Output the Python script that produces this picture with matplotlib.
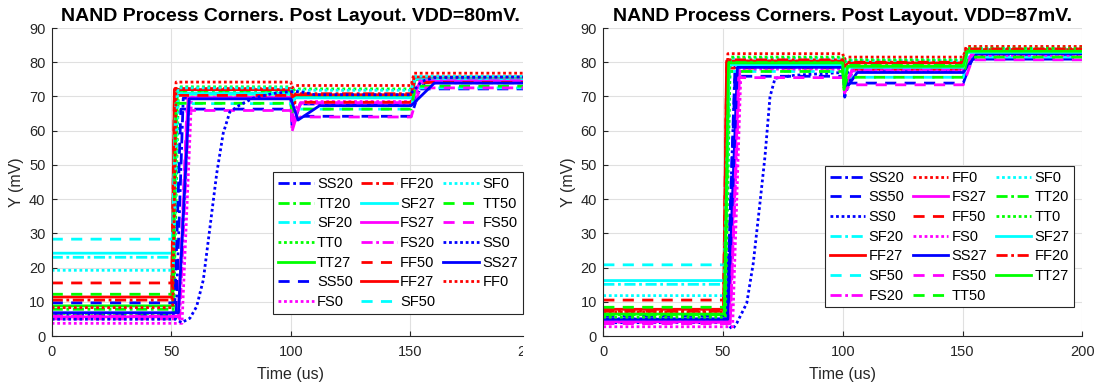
import numpy as np
import matplotlib
matplotlib.use("Agg")
import matplotlib.pyplot as plt
from matplotlib.transforms import Bbox, TransformedBbox

plt.rcParams['font.family'] = ['Liberation Sans', 'DejaVu Sans']

# ---------------- data: VDD = 80 mV ----------------
L_NAMES = ['SS20', 'TT20', 'SF20', 'TT0', 'TT27', 'SS50', 'FS0', 'FF20', 'SF27', 'FS27',
           'FS20', 'FF50', 'FF27', 'SF50', 'SF0', 'TT50', 'FS50', 'SS0', 'SS27', 'FF0']
L_LOW = [6.3, 7.8, 23.0, 6.6, 8.8, 9.7, 3.7, 10.5, 24.2, 5.6,
         5.0, 15.5, 11.4, 28.3, 19.2, 12.2, 5.8, np.nan, 6.8, 8.3]
L_LVL1 = [69.5, 71.3, 71.0, 72.8, 70.7, 66.3, 69.8, 72.3, 70.8, 69.6,
          69.7, 70.3, 72.0, 67.9, 72.5, 68.0, 65.9, np.nan, 69.3, 74.2]
L_LVL2 = [67.8, 70.0, 69.8, 72.2, 69.7, 64.2, 68.5, 70.8, 69.6, 68.2,
          68.0, 68.3, 70.5, 66.3, 71.8, 66.3, 64.0, np.nan, 67.3, 73.2]
L_LVL3 = [74.0, 75.0, 75.2, 75.4, 75.0, 72.2, 74.8, 75.4, 75.2, 74.4,
          74.6, 74.1, 75.7, 72.5, 75.9, 73.0, 72.5, np.nan, 73.9, 76.8]
L_RISE0 = [52.0, 50.8, 50.5, 51.0, 50.6, 51.5, 54.5, 50.3, 50.4, 53.0,
           53.5, 50.2, 50.2, 50.4, 50.8, 50.5, 53.0, np.nan, 53.0, 50.6]
L_RISE1 = [55.0, 52.5, 52.0, 53.0, 52.3, 54.0, 58.5, 51.5, 51.8, 57.0,
           57.5, 51.3, 51.3, 51.8, 52.8, 52.0, 56.5, np.nan, 57.5, 52.0]
L_DIP = [60.8, 67.5, 68.5, 71.5, 68.5, 63.5, 66.0, 70.0, 68.5, 62.0,
         59.8, 67.5, 69.8, 65.5, 71.0, 65.5, 62.5, np.nan, 63.1, 72.5]
L_DIP_AT = [100.5, 100.5, 100.5, 100.5, 100.5, 101.0, 101.0, 100.5, 100.5, 101.0,
            100.5, 100.5, 100.5, 100.5, 100.5, 100.5, 101.0, np.nan, 103.0, 100.5]
L_SETTLE = [104, 102, 102, 102, 102, 104, 105, 102, 102, 104,
            104, 102, 102, 102, 102, 102, 104, np.nan, 112, 102]
L_UP = [156, 152, 152, 152, 152, 154, 156, 151.5, 152, 154,
        154, 151.5, 151.5, 152, 152, 152, 154, np.nan, 160, 151.5]
L_SS0_T = [0, 52, 54.3, 57.8, 60.6, 63.4, 66.2, 69.0, 71.7, 74.5, 78.7, 84.3, 92.6,
           100, 104, 110, 150, 151, 155, 160, 200]
L_SS0_V = [4.9, 4.9, 3.9, 5.2, 8.6, 16.4, 31.9, 47.5, 59.2, 65.5, 67.5, 69.5, 70.9,
           71.4, 71.4, 70.5, 70.5, 71.5, 74.5, 75.5, 75.7]

# ---------------- data: VDD = 87 mV ----------------
R_NAMES = ['SS20', 'SS50', 'SS0', 'SF20', 'FF27', 'SF50', 'FS20', 'FF0', 'FS27', 'FF50',
           'FS0', 'SS27', 'FS50', 'TT50', 'SF0', 'TT20', 'TT0', 'SF27', 'FF20', 'TT27']
R_LOW = [5.0, 5.8, np.nan, 15.1, 7.8, 20.8, 4.0, 7.0, 4.2, 10.5,
         2.7, 4.9, 3.6, 8.4, 11.8, 6.2, 5.5, 16.2, 7.2, 6.4]
R_LVL1 = [78.8, 75.9, np.nan, 79.8, 80.4, 77.3, 78.6, 82.5, 78.8, 78.3,
          78.0, 78.5, 75.5, 77.3, 81.2, 80.0, 81.5, 79.3, 80.7, 79.8]
R_LVL2 = [77.5, 73.9, np.nan, 78.8, 79.8, 75.6, 77.8, 81.5, 78.0, 78.0,
          77.5, 77.0, 73.4, 75.6, 80.5, 79.1, 80.7, 78.5, 80.0, 78.8]
R_LVL3 = [82.2, 80.9, np.nan, 82.9, 83.7, 81.5, 82.6, 84.6, 82.5, 82.4,
          82.0, 82.5, 80.7, 81.5, 84.0, 83.2, 84.1, 82.9, 83.9, 83.2]
R_RISE0 = [51.5, 51.5, np.nan, 50.5, 50.2, 50.5, 53.0, 50.5, 52.5, 50.2,
           54.0, 52.0, 53.0, 50.7, 50.8, 50.6, 51.0, 50.5, 50.3, 50.5]
R_RISE1 = [55.0, 55.0, np.nan, 52.5, 51.5, 52.5, 57.0, 52.0, 56.5, 51.5,
           57.5, 56.0, 56.5, 52.5, 53.0, 52.5, 53.0, 52.5, 51.6, 52.3]
R_DIP = [69.8, 72.5, np.nan, 75.5, 78.5, 73.5, 71.0, 80.8, 73.0, 76.5,
         74.0, 72.9, 71.5, 72.5, 79.8, 74.0, 80.0, 76.5, 78.8, 72.0]
R_DIP_AT = [100.8, 101.0, np.nan, 100.5, 100.5, 100.5, 100.8, 100.5, 100.8, 100.5,
            101.0, 102.0, 101.0, 100.5, 100.5, 100.5, 100.5, 100.5, 100.5, 100.5]
R_SETTLE = [104, 103, np.nan, 102, 102, 102, 104, 102, 104, 102,
            104, 106, 103, 102, 102, 102, 102, 102, 102, 102]
R_UP = [155, 154, np.nan, 152, 151.5, 152, 154, 151.5, 154, 151.5,
        155, 156, 154, 152, 152, 152, 152, 152, 151.5, 152]
R_SS0_T = [0, 51, 54.0, 55.7, 59.9, 62.6, 65.4, 67.5, 69.6, 71.7, 80,
           100, 101, 104, 150, 151, 155, 160, 200]
R_SS0_V = [3.9, 3.9, 2.0, 3.7, 9.6, 21.2, 38.8, 52.4, 69.9, 75.3, 76.2,
           77.0, 76.5, 77.8, 77.8, 79.0, 81.5, 82.3, 82.5]

X_TICKS = [0, 50, 100, 150, 200]
Y_TICKS = [0, 10, 20, 30, 40, 50, 60, 70, 80, 90]

# ---------------- styling ----------------
COLORS = {'SS': (0, 0, 1), 'TT': (0, 1, 0), 'SF': (0, 1, 1), 'FS': (1, 0, 1), 'FF': (1, 0, 0)}
STYLES = {'20': (0, (4.0, 1.3, 1.0, 1.3)),
          '50': (0, (4.0, 3.0)),
          '0': (0, (1.0, 1.0)),
          '27': '-'}
DARK = (0.15, 0.15, 0.15)
GRID = (0.88, 0.88, 0.88)
TICK_FS = 10.5


def waveform(i, arrs):
    low, l1, l2, l3, r0, r1, dip, dip_at, settle, up = [a[i] for a in arrs]
    t = [0, r0, r1, 100, dip_at, settle, 150.3, up, 200]
    v = [low, low, l1, l1, dip, l2, l2, l3, l3]
    return t, v


W, H = 1099, 389
fig = plt.figure(figsize=(W / 100, H / 100), dpi=100, facecolor='white')

left_full_w = 530.0 - 51.7      # width of the 0..200 span
left_clip_x = 523.0
axL = fig.add_axes([51.7 / W, 53 / H, (left_clip_x - 51.7) / W, 308 / H])
axR = fig.add_axes([603.3 / W, 53 / H, 479.0 / W, 308 / H])

panels = [
    (axL, L_NAMES, [L_LOW, L_LVL1, L_LVL2, L_LVL3, L_RISE0, L_RISE1, L_DIP, L_DIP_AT, L_SETTLE, L_UP],
     (L_SS0_T, L_SS0_V), 'NAND Process Corners. Post Layout. VDD=80mV.'),
    (axR, R_NAMES, [R_LOW, R_LVL1, R_LVL2, R_LVL3, R_RISE0, R_RISE1, R_DIP, R_DIP_AT, R_SETTLE, R_UP],
     (R_SS0_T, R_SS0_V), 'NAND Process Corners. Post Layout. VDD=87mV.'),
]

for ax, names, arrs, ss0, title in panels:
    for i, name in enumerate(names):
        corner, temp = name[:2], name[2:]
        if name == 'SS0':
            t, v = ss0
        else:
            t, v = waveform(i, arrs)
        ax.plot(t, v, color=COLORS[corner], linestyle=STYLES[temp], lw=2.0,
                label=name, solid_joinstyle='round')

    ax.set_ylim(0, 90)
    ax.set_yticks(Y_TICKS)
    ax.grid(True, color=GRID, lw=0.8)
    ax.set_axisbelow(True)
    for s in ('top', 'right'):
        ax.spines[s].set_visible(False)
    for s in ('left', 'bottom'):
        ax.spines[s].set_color(DARK)
        ax.spines[s].set_linewidth(0.8)
    ax.tick_params(direction='in', length=3.5, width=0.8, color=DARK,
                   labelsize=TICK_FS, labelcolor=DARK)
    ax.tick_params(axis='x', pad=6.5)
    ax.tick_params(axis='y', pad=4.5)
    ax.set_ylabel('Y (mV)', fontsize=11.5, color=DARK)
    ax.set_xlabel('Time (us)', fontsize=11.5, color=DARK)

# Left panel: the 0..200 axis is cut off at its right edge
axL.set_xlim(0, 200 * (left_clip_x - 51.7) / left_full_w)
axL.set_xticks(X_TICKS[:-1])
cut = axL.annotate('200', xy=(200, 0), xycoords=('data', 'axes fraction'),
                   xytext=(0, -6.5), textcoords='offset points', ha='center', va='top',
                   fontsize=TICK_FS, color=DARK, annotation_clip=False)
cut.set_clip_on(True)
cut.set_clip_box(TransformedBbox(Bbox([[0, 0], [left_clip_x / W, 1]]), fig.transFigure))

axR.set_xlim(0, 200)
axR.set_xticks(X_TICKS)

cxL = (290.9 - 51.7) / (left_clip_x - 51.7)
axL.set_title(panels[0][4], fontsize=14, fontweight='bold', x=cxL, pad=5)
axR.set_title(panels[1][4], fontsize=14, fontweight='bold', pad=5)
axL.xaxis.set_label_coords(cxL, -0.1)
axR.xaxis.set_label_coords(0.5, -0.1)
axL.yaxis.set_label_coords((24 - 51.7) / (left_clip_x - 51.7), 0.5)
axR.yaxis.set_label_coords((576 - 603.3) / 479.0, 0.5)

leg_kw = dict(ncol=3, loc='upper left', fontsize=10.5, handlelength=2.45,
              handletextpad=0.23, columnspacing=0.55, borderpad=0.32,
              labelspacing=0.39, borderaxespad=0, fancybox=False, framealpha=1,
              edgecolor=DARK, bbox_transform=fig.transFigure)
for ax, (x0, y0) in ((axL, (273.3, 172.3)), (axR, (825.0, 166.0))):
    lg = ax.legend(bbox_to_anchor=(x0 / W, 1 - y0 / H), **leg_kw)
    lg.get_frame().set_linewidth(0.8)

fig.savefig('out.png', dpi=100, facecolor='white')
